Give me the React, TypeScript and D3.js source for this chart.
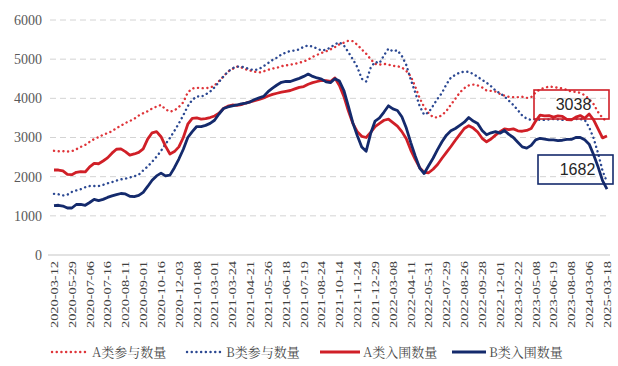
import * as d3 from "d3";
import { useEffect, useRef } from "react";

// x-axis tick labels (every 4th data point)
const tickLabels = [
  "2020-03-12", "2020-05-29", "2020-07-06", "2020-07-16", "2020-08-11", "2020-09-01",
  "2020-10-16", "2020-12-03", "2021-01-08", "2021-03-01", "2021-03-24", "2021-04-21",
  "2021-05-26", "2021-06-18", "2021-07-19", "2021-08-24", "2021-10-14", "2021-11-24",
  "2021-12-29", "2022-03-08", "2022-04-11", "2022-05-31", "2022-07-29", "2022-08-26",
  "2022-09-28", "2022-12-01", "2023-02-22", "2023-05-08", "2023-06-19", "2023-08-08",
  "2024-03-06", "2025-03-18"
];
const tickStep = 4;

const seriesNames = ["A类参与数量", "B类参与数量", "A类入围数量", "B类入围数量"];

// A类参与数量
const aJoin = [
  2660, 2650, 2650, 2640, 2650, 2700, 2760, 2810, 2890, 2960, 3010, 3070, 3110, 3160, 3240, 3300,
  3370, 3420, 3480, 3560, 3620, 3670, 3740, 3790, 3830, 3720, 3660, 3690, 3780, 3900, 4150, 4250,
  4270, 4260, 4260, 4270, 4330, 4440, 4560, 4680, 4750, 4810, 4790, 4740, 4710, 4680, 4660, 4690,
  4730, 4760, 4780, 4820, 4840, 4860, 4880, 4910, 4940, 4990, 5060, 5110, 5160, 5200, 5250, 5310,
  5380, 5420, 5470, 5460, 5370, 5250, 5140, 5000, 4880, 4860, 4880, 4860, 4830, 4820, 4790, 4700,
  4560, 4300, 4000, 3780, 3620, 3520, 3510, 3570, 3680, 3840, 3990, 4150, 4260, 4330, 4350, 4330,
  4280, 4200, 4190, 4170, 4110, 4070, 4040, 4030, 4030, 4040, 4010, 4030, 4150, 4230, 4270, 4300,
  4290, 4270, 4250, 4220, 4170, 4170, 4140, 4080, 3980, 3850, 3650, 3500, 3400
];

// B类参与数量
const bJoin = [
  1560, 1550, 1520, 1540, 1610, 1650, 1680, 1730, 1760, 1760, 1760, 1790, 1830, 1860, 1900, 1930,
  1950, 1980, 2010, 2050, 2160, 2260, 2380, 2510, 2660, 2830, 2990, 3170, 3360, 3570, 3800, 3960,
  4050, 4040, 4100, 4170, 4280, 4420, 4560, 4680, 4770, 4810, 4810, 4780, 4740, 4720, 4750, 4820,
  4900, 4980, 5040, 5120, 5170, 5210, 5220, 5250, 5320, 5350, 5320, 5270, 5220, 5240, 5300, 5380,
  5430, 5350, 5180, 5000, 4800, 4500, 4430, 4780, 4930, 4900, 5100, 5270, 5200, 5230, 5080, 4850,
  4480, 4150, 3800, 3580, 3640, 3810, 3990, 4140, 4360, 4530, 4600, 4660, 4680, 4680, 4620, 4550,
  4470, 4400, 4310, 4200, 4130, 4050, 3940, 3830, 3700, 3560, 3480, 3450, 3470, 3450, 3450, 3460,
  3470, 3460, 3450, 3450, 3460, 3470, 3470, 3450, 3260, 2980, 2600, 2150, 1860
];

// A类入围数量
const aIn = [
  2170, 2170, 2150, 2060, 2050, 2110, 2130, 2120, 2250, 2340, 2330, 2400, 2480, 2600, 2700, 2710,
  2640, 2550, 2580, 2620, 2710, 2960, 3120, 3150, 3020, 2780, 2580, 2640, 2760, 3000, 3340, 3490,
  3500, 3470, 3480, 3510, 3550, 3620, 3740, 3800, 3830, 3820, 3840, 3880, 3910, 3940, 3970, 4010,
  4060, 4100, 4130, 4160, 4180, 4200, 4240, 4280, 4300, 4360, 4400, 4430, 4460, 4450, 4430, 4520,
  4330, 4050, 3680, 3360, 3150, 3030, 3000, 3130, 3280, 3360, 3440, 3470, 3380, 3290, 3150, 2970,
  2680, 2440, 2230, 2110, 2100, 2190, 2310, 2470, 2620, 2770, 2930, 3080, 3230, 3300, 3240, 3140,
  2980, 2890, 2960, 3060, 3150, 3220, 3200, 3220, 3170, 3160, 3180, 3230, 3420, 3570, 3550, 3560,
  3520, 3550, 3540, 3460, 3450, 3520, 3560, 3490, 3600, 3450, 3220, 2990, 3038
];

// B类入围数量
const bIn = [
  1260, 1270, 1250, 1200, 1200, 1290, 1290, 1270, 1340, 1420, 1390, 1420, 1470, 1510, 1540, 1570,
  1560, 1500, 1490, 1520, 1600, 1750, 1910, 2020, 2090, 2020, 2040, 2230, 2450, 2700, 3000, 3150,
  3280, 3280, 3310, 3360, 3440, 3600, 3740, 3780, 3810, 3830, 3860, 3880, 3910, 3970, 4010, 4050,
  4170, 4260, 4340, 4410, 4430, 4430, 4470, 4510, 4560, 4620, 4560, 4520, 4490, 4420, 4400, 4500,
  4440, 4200, 3800, 3380, 3050, 2760, 2650, 3100, 3420, 3500, 3650, 3810, 3730, 3690, 3530, 3240,
  2870, 2530, 2220, 2080, 2280, 2470, 2690, 2890, 3060, 3170, 3230, 3310, 3390, 3510, 3420, 3360,
  3180, 3070, 3120, 3150, 3110, 3180, 3080, 3000, 2880, 2760, 2730, 2800, 2940, 2980, 2960, 2940,
  2940, 2920, 2930, 2950, 2950, 3000, 3000, 2940, 2830, 2560, 2250, 1900, 1682
];

const yTicks = [0, 1000, 2000, 3000, 4000, 5000, 6000];

const RED = "#d01f27";
const RED_DOT = "#df3439";
const NAVY = "#142a6c";
const BLUE_DOT = "#2b4892";

function App() {
  const ref = useRef(null);

  useEffect(() => {
    const width = 618;
    const height = 366;

    d3.select(ref.current).selectAll("*").remove();

    const svg = d3.select(ref.current)
      .append("svg")
      .attr("width", width)
      .attr("height", height)
      .style("position", "absolute")
      .style("left", "0px")
      .style("top", "0px")
      .style("background", "#fff");

    const n = aJoin.length;
    const x = d3.scaleLinear().domain([0, n - 1]).range([54, 607]);
    const y = d3.scaleLinear().domain([0, 6000]).range([255, 20]);

    // grid
    const grid = svg.append("g");
    grid.selectAll("line")
      .data(yTicks.filter(d => d > 0))
      .enter()
      .append("line")
      .attr("x1", 50)
      .attr("x2", 610)
      .attr("y1", d => y(d))
      .attr("y2", d => y(d))
      .attr("stroke", "#d4d4d4")
      .attr("stroke-width", 1)
      .attr("stroke-dasharray", "6 4");

    grid.append("line")
      .attr("x1", 48)
      .attr("x2", 610)
      .attr("y1", y(0))
      .attr("y2", y(0))
      .attr("stroke", "#d9d9d9")
      .attr("stroke-width", 1.5);

    // y labels
    svg.append("g").selectAll("text")
      .data(yTicks)
      .enter()
      .append("text")
      .attr("x", 42)
      .attr("y", d => y(d))
      .attr("dy", "0.35em")
      .attr("text-anchor", "end")
      .attr("font-family", "'Liberation Serif', 'Times New Roman', serif")
      .attr("font-size", 14)
      .attr("fill", "#595959")
      .text(d => d);

    // x labels
    svg.append("g").selectAll("text")
      .data(tickLabels)
      .enter()
      .append("text")
      .attr("transform", (d, i) => `translate(${x(i * tickStep)},261) rotate(-90)`)
      .attr("dy", "0.35em")
      .attr("text-anchor", "end")
      .attr("font-family", "'Liberation Serif', 'Times New Roman', serif")
      .attr("font-size", 11)
      .attr("textLength", 67)
      .attr("lengthAdjust", "spacingAndGlyphs")
      .attr("fill", "#404040")
      .text(d => d);

    const line = d3.line()
      .x((d, i) => x(i))
      .y(d => y(d));

    const lines = [
      { data: aJoin, color: RED_DOT, dotted: true },
      { data: bJoin, color: BLUE_DOT, dotted: true },
      { data: aIn, color: RED, dotted: false },
      { data: bIn, color: NAVY, dotted: false }
    ];

    svg.append("g").selectAll("path")
      .data(lines)
      .enter()
      .append("path")
      .attr("d", d => line(d.data))
      .attr("fill", "none")
      .attr("stroke", d => d.color)
      .attr("stroke-width", d => d.dotted ? 2.4 : 2.8)
      .attr("stroke-linecap", d => d.dotted ? "round" : "butt")
      .attr("stroke-linejoin", "round")
      .attr("stroke-dasharray", d => d.dotted ? "0.1 4.6" : null);

    // end-value boxes
    const boxes = [
      { value: aIn[n - 1], color: RED, x0: 534, y0: 90, w: 75, h: 29 },
      { value: bIn[n - 1], color: NAVY, x0: 538, y0: 155, w: 75, h: 29 }
    ];
    const box = svg.append("g").selectAll("g")
      .data(boxes)
      .enter()
      .append("g");
    box.append("rect")
      .attr("x", d => d.x0)
      .attr("y", d => d.y0)
      .attr("width", d => d.w)
      .attr("height", d => d.h)
      .attr("fill", "none")
      .attr("stroke", d => d.color)
      .attr("stroke-width", 1.6);
    box.append("text")
      .attr("x", d => d.x0 + d.w / 2 + 2)
      .attr("y", d => d.y0 + d.h / 2)
      .attr("dy", "0.36em")
      .attr("text-anchor", "middle")
      .attr("font-family", "'Liberation Sans', Arial, sans-serif")
      .attr("font-size", 16)
      .attr("fill", "#262626")
      .text(d => d.value);

    // legend
    const legendItems = [
      { name: seriesNames[0], color: RED_DOT, dotted: true, lx: 52, lw: 37 },
      { name: seriesNames[1], color: BLUE_DOT, dotted: true, lx: 187, lw: 36 },
      { name: seriesNames[2], color: RED, dotted: false, lx: 320, lw: 40 },
      { name: seriesNames[3], color: NAVY, dotted: false, lx: 452, lw: 34 }
    ];
    const legend = svg.append("g").selectAll("g")
      .data(legendItems)
      .enter()
      .append("g");
    legend.append("line")
      .attr("x1", d => d.lx)
      .attr("x2", d => d.lx + d.lw)
      .attr("y1", 352)
      .attr("y2", 352)
      .attr("stroke", d => d.color)
      .attr("stroke-width", d => d.dotted ? 2.4 : 3)
      .attr("stroke-linecap", d => d.dotted ? "round" : "butt")
      .attr("stroke-dasharray", d => d.dotted ? "0.1 4.6" : null);
    legend.append("text")
      .attr("x", d => d.lx + d.lw + 3)
      .attr("y", 352)
      .attr("dy", "0.36em")
      .attr("font-family", "'Noto Serif CJK SC', 'Noto Sans CJK SC', sans-serif")
      .attr("font-size", 13)
      .attr("fill", "#4a4a4a")
      .text(d => d.name);
  }, []);

  return (
    <div ref={ref}></div>
  );
}

export default App;
